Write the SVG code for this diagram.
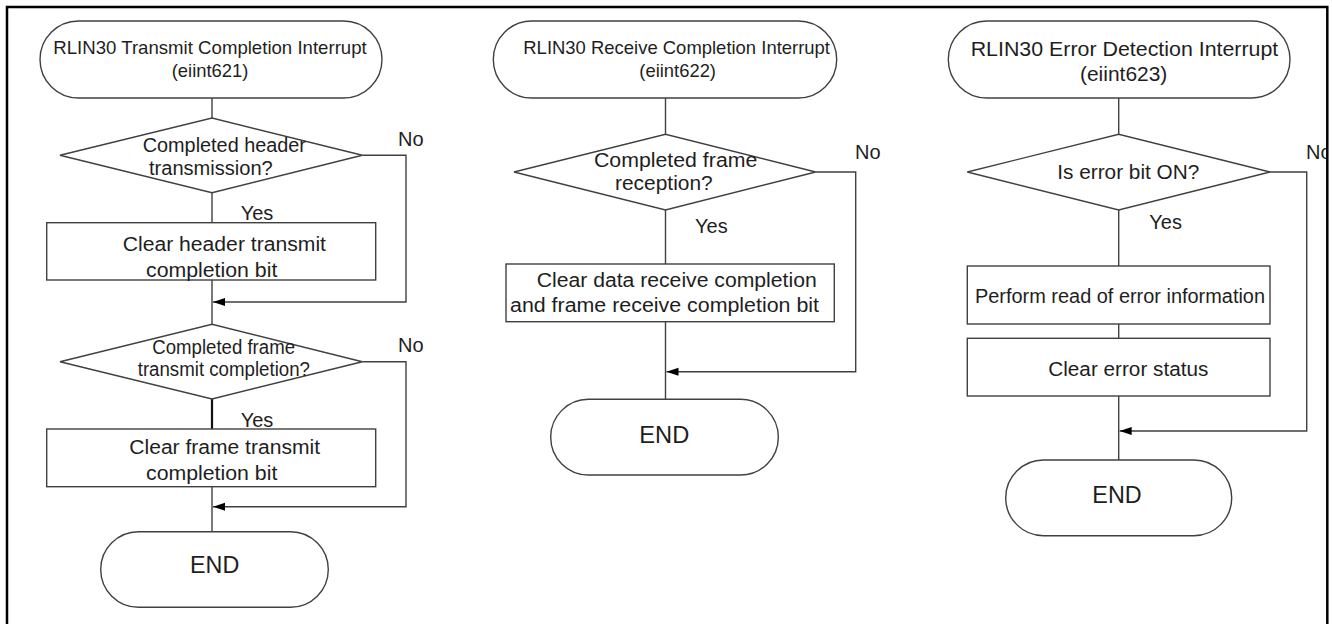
<svg xmlns="http://www.w3.org/2000/svg" width="1332" height="624" viewBox="0 0 1332 624">
<style>
.s{fill:#fff;stroke:#404040;stroke-width:1.4}
.c{fill:none;stroke:#404040;stroke-width:1.4}
text{font-family:"Liberation Sans",Arial,sans-serif;fill:#1e1e1e;font-size:20px}
.t{font-size:18.5px}
.t3{font-size:20.5px}
.e{font-size:23.5px}
</style>
<defs>
<marker id="ah" markerUnits="userSpaceOnUse" markerWidth="13" markerHeight="10" refX="12" refY="4" orient="auto">
<path d="M0,0 L12,4 L0,8 Z" fill="#000"/>
</marker>
<clipPath id="fc"><rect x="0" y="0" width="1326.5" height="624"/></clipPath>
</defs>
<rect width="1332" height="624" fill="#fff"/>

<g id="connectors">
<path class="c" d="M212,98 V118"/>
<path class="c" d="M212,193 V222.7"/>
<path class="c" d="M212,280 V324.3"/>
<path class="c" d="M362.3,155.3 H406 V302 H213" marker-end="url(#ah)"/>
<path class="c" d="M212,399 V429" style="stroke-width:2.2;stroke:#111"/>
<path class="c" d="M212,486.7 V531.7"/>
<path class="c" d="M362.3,361.7 H406 V506.7 H213" marker-end="url(#ah)"/>
<path class="c" d="M665.5,98 V134.3"/>
<path class="c" d="M665.5,210 V264"/>
<path class="c" d="M665.5,321.7 V399.3"/>
<path class="c" d="M815.7,172 H855.7 V371.7 H666.5" marker-end="url(#ah)"/>
<path class="c" d="M1118.7,98 V134.3"/>
<path class="c" d="M1118.7,210 V266"/>
<path class="c" d="M1118.7,324 V338.3"/>
<path class="c" d="M1118.7,396 V460"/>
<path class="c" d="M1270,172 H1306.7 V431 H1119.7" marker-end="url(#ah)"/>
</g>

<g id="start1">
<rect class="s" x="40" y="21" width="342" height="77" rx="38.5"/>
<text class="t" x="53.3" y="53.5" textLength="313.4" lengthAdjust="spacingAndGlyphs">RLIN30 Transmit Completion Interrupt</text>
<text class="t" x="171.7" y="76.5" textLength="76.7" lengthAdjust="spacingAndGlyphs">(eiint621)</text>
</g>
<g id="dec1">
<polygon class="s" points="60,155.3 212,118 362.3,155.3 212,192.7"/>
<text x="142.7" y="151.7" textLength="163.3" lengthAdjust="spacingAndGlyphs">Completed header</text>
<text x="149" y="175" textLength="123.7" lengthAdjust="spacingAndGlyphs">transmission?</text>
</g>
<g id="proc1">
<rect class="s" x="46.7" y="222.7" width="329" height="57.3"/>
<text x="122.7" y="250.7" textLength="203.3" lengthAdjust="spacingAndGlyphs">Clear header transmit</text>
<text x="146" y="276.7" textLength="131.3" lengthAdjust="spacingAndGlyphs">completion bit</text>
</g>
<g id="dec2">
<polygon class="s" points="60,361.7 212,324.3 362.3,361.7 212,399"/>
<text x="152.3" y="354.3" textLength="142.7" lengthAdjust="spacingAndGlyphs">Completed frame</text>
<text x="137.7" y="376" textLength="172.3" lengthAdjust="spacingAndGlyphs">transmit completion?</text>
</g>
<g id="proc2">
<rect class="s" x="46.7" y="429" width="329" height="57.7"/>
<text x="129.3" y="454" textLength="190.7" lengthAdjust="spacingAndGlyphs">Clear frame transmit</text>
<text x="146" y="480" textLength="131.3" lengthAdjust="spacingAndGlyphs">completion bit</text>
</g>
<g id="end1">
<rect class="s" x="100.7" y="531.7" width="227.6" height="75.6" rx="37.8"/>
<text class="e" x="190" y="573.3" textLength="49.3" lengthAdjust="spacingAndGlyphs">END</text>
</g>
<g id="labels1">
<text x="398" y="145.7">No</text>
<text x="240.7" y="220">Yes</text>
<text x="398" y="352.3">No</text>
<text x="240.7" y="426.7">Yes</text>
</g>

<g id="start2">
<rect class="s" x="493.3" y="21" width="343.4" height="77" rx="38.5"/>
<text class="t" x="523.3" y="53.5" textLength="306.7" lengthAdjust="spacingAndGlyphs">RLIN30 Receive Completion Interrupt</text>
<text class="t" x="639.3" y="76.5" textLength="76.7" lengthAdjust="spacingAndGlyphs">(eiint622)</text>
</g>
<g id="dec3">
<polygon class="s" points="514,172 665.5,134.3 815.7,172 665.5,210"/>
<text x="594" y="166.7" textLength="163.3" lengthAdjust="spacingAndGlyphs">Completed frame</text>
<text x="615" y="190" textLength="97.7" lengthAdjust="spacingAndGlyphs">reception?</text>
</g>
<g id="proc3">
<rect class="s" x="506" y="264" width="328.3" height="57.7"/>
<text x="536.7" y="287.3" textLength="280" lengthAdjust="spacingAndGlyphs">Clear data receive completion</text>
<text x="510" y="312" textLength="309" lengthAdjust="spacingAndGlyphs">and frame receive completion bit</text>
</g>
<g id="end2">
<rect class="s" x="550.7" y="399.3" width="227.6" height="75.7" rx="37.8"/>
<text class="e" x="639.3" y="442.7" textLength="50" lengthAdjust="spacingAndGlyphs">END</text>
</g>
<g id="labels2">
<text x="855" y="159.3">No</text>
<text x="695" y="233.3">Yes</text>
</g>

<g id="start3">
<rect class="s" x="948.3" y="21" width="341.7" height="77" rx="38.5"/>
<text class="t3" x="970.7" y="56" textLength="307.6" lengthAdjust="spacingAndGlyphs">RLIN30 Error Detection Interrupt</text>
<text class="t3" x="1080" y="81" textLength="87.3" lengthAdjust="spacingAndGlyphs">(eiint623)</text>
</g>
<g id="dec4">
<polygon class="s" points="967.3,172 1118.7,134.3 1270,172 1118.7,210"/>
<text x="1057.3" y="179" textLength="142" lengthAdjust="spacingAndGlyphs">Is error bit ON?</text>
</g>
<g id="proc4">
<rect class="s" x="967.3" y="266" width="302.7" height="58"/>
<text x="975" y="303.3" textLength="290" lengthAdjust="spacingAndGlyphs">Perform read of error information</text>
</g>
<g id="proc5">
<rect class="s" x="967.3" y="338.3" width="302.7" height="57.7"/>
<text x="1048.3" y="376" textLength="160" lengthAdjust="spacingAndGlyphs">Clear error status</text>
</g>
<g id="end3">
<rect class="s" x="1005.7" y="460" width="226" height="75.7" rx="37.8"/>
<text class="e" x="1092.3" y="503.3" textLength="49.4" lengthAdjust="spacingAndGlyphs">END</text>
</g>
<g id="labels3">
<text x="1306" y="159.3" clip-path="url(#fc)">No</text>
<text x="1149.3" y="229.3">Yes</text>
</g>

<path id="frame" d="M7,630 V7 H1327.3 V630" fill="none" stroke="#000" stroke-width="2.5"/>
</svg>
